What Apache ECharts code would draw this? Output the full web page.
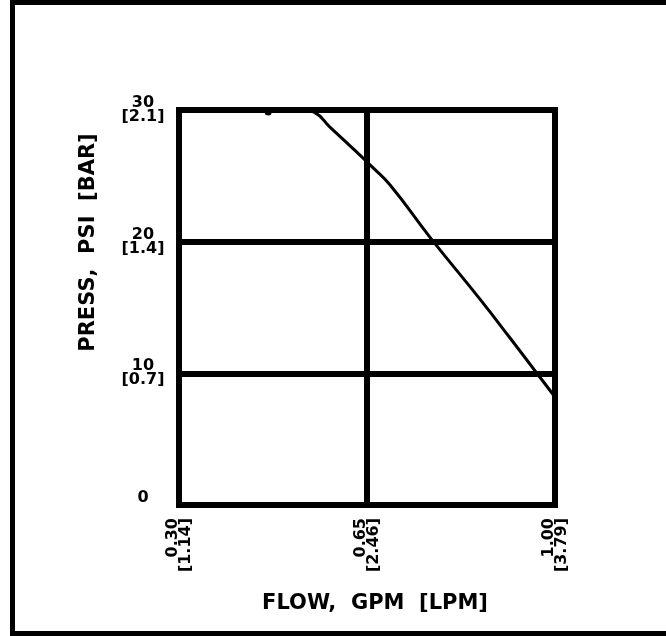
<!DOCTYPE html>
<html lang="en">
<head>
    <meta charset="UTF-8">
    <title>Press / Flow</title>
    <style>
        * { padding: 0; margin: 0; }
        body { background: #fff; }
    </style>
</head>
<body>
    <div id="main" style="width: 666px; height: 636px;"></div>
    <script src="https://cdn.jsdelivr.net/npm/echarts@6/dist/echarts.min.js"></script>
    <script>
        // flow in GPM, pressure in PSI
        const flowGpm = [0.466, 0.531, 0.553, 0.581, 0.618, 0.659, 0.693, 0.767, 0.861, 0.916, 0.972, 1.0]
        const pressPsi = [30, 30, 29.8, 28.7, 27.3, 25.7, 24.3, 20.35, 15.6, 12.7, 9.7, 8.2]

        const xTicks = [0.3, 0.65, 1.0]
        const xTickLpm = ['1.14', '2.46', '3.79']
        const yTicks = [0, 10, 20, 30]
        const yTickBar = ['', '0.7', '1.4', '2.1']

        let mychart = echarts.init(document.getElementById('main'))

        const font = 'DejaVu Sans'

        let options = {
            animation: false,
            backgroundColor: '#fff',
            graphic: [{
                type: 'rect',
                shape: { x: 12.5, y: 2.5, width: 700, height: 631 },
                style: { fill: 'none', stroke: '#000', lineWidth: 5 },
                silent: true
            }],
            grid: {
                left: 179,
                right: 111,
                top: 110,
                bottom: 131,
                show: true,
                borderColor: '#000',
                borderWidth: 6,
                containLabel: false
            },
            xAxis: {
                type: 'value',
                min: 0.3,
                max: 1.0,
                name: 'FLOW,  GPM  [LPM]',
                nameLocation: 'middle',
                nameGap: 88,
                nameTextStyle: {
                    fontFamily: font,
                    fontWeight: 'bold',
                    fontSize: 21,
                    color: '#000',
                    padding: [0, 0, 0, 16]
                },
                axisLine: { show: false },
                axisTick: { show: false },
                splitLine: { show: false },
                axisLabel: {
                    customValues: xTicks,
                    rotate: 90,
                    margin: 13,
                    fontFamily: font,
                    fontWeight: 'bold',
                    fontSize: 16,
                    lineHeight: 13,
                    color: '#000',
                    formatter: function (v) {
                        const i = xTicks.findIndex(t => Math.abs(t - v) < 1e-6)
                        return v.toFixed(2) + '\n[' + xTickLpm[i] + ']'
                    }
                }
            },
            yAxis: {
                type: 'value',
                min: 0,
                max: 30,
                interval: 10,
                name: 'PRESS,  PSI  [BAR]',
                nameLocation: 'middle',
                nameGap: 80,
                nameRotate: 90,
                nameTextStyle: {
                    fontFamily: font,
                    fontWeight: 'bold',
                    fontSize: 21,
                    color: '#000',
                    padding: [0, 0, 0, 130]
                },
                axisLine: { show: false },
                axisTick: { show: false },
                splitLine: {
                    show: true,
                    lineStyle: { color: '#000', width: 6 }
                },
                axisLabel: {
                    margin: 36,
                    fontFamily: font,
                    fontWeight: 'bold',
                    fontSize: 16,
                    lineHeight: 14,
                    color: '#000',
                    align: 'center',
                    formatter: function (v) {
                        const i = yTicks.indexOf(v)
                        if (v === 0) return '0\n '
                        return v + '\n[' + yTickBar[i] + ']'
                    }
                }
            },
            series: [{
                type: 'line',
                smooth: 0.5,
                showSymbol: false,
                lineStyle: { color: '#000', width: 3 },
                data: flowGpm.map((x, i) => [x, pressPsi[i]]),
                markLine: {
                    silent: true,
                    symbol: 'none',
                    label: { show: false },
                    lineStyle: { color: '#000', width: 6, type: 'solid' },
                    data: [{ xAxis: 0.65 }]
                },
                markPoint: {
                    symbol: 'circle',
                    symbolSize: 7,
                    itemStyle: { color: '#000' },
                    label: { show: false },
                    data: [{ coord: [flowGpm[0], pressPsi[0] - 0.15] }]
                }
            }]
        }

        mychart.setOption(options)
    </script>
</body>
</html>
